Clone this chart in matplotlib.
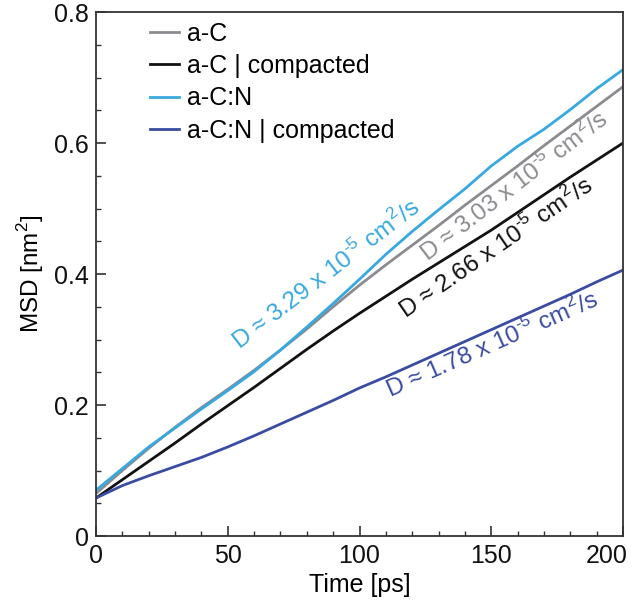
import matplotlib
matplotlib.use("Agg")
from matplotlib import pyplot as plt
from matplotlib.ticker import MultipleLocator
from matplotlib.transforms import ScaledTranslation

plt.rcParams['font.family'] = ['Liberation Sans', 'DejaVu Sans']

# MSD curves, every 10 ps
time = [0, 10, 20, 30, 40, 50, 60, 70, 80, 90, 100,
        110, 120, 130, 140, 150, 160, 170, 180, 190, 200]
msd_aC = [0.065, 0.100, 0.134, 0.166, 0.196, 0.224, 0.253, 0.284, 0.316, 0.350, 0.383,
          0.414, 0.444, 0.474, 0.505, 0.535, 0.565, 0.596, 0.626, 0.656, 0.686]
msd_aC_comp = [0.058, 0.086, 0.114, 0.142, 0.171, 0.199, 0.227, 0.256, 0.285, 0.313, 0.340,
               0.366, 0.392, 0.417, 0.442, 0.467, 0.494, 0.521, 0.548, 0.574, 0.600]
msd_aCN = [0.070, 0.103, 0.136, 0.165, 0.194, 0.222, 0.251, 0.284, 0.319, 0.355, 0.392,
           0.430, 0.465, 0.498, 0.530, 0.565, 0.595, 0.621, 0.651, 0.683, 0.712]
msd_aCN_comp = [0.058, 0.077, 0.092, 0.106, 0.120, 0.136, 0.153, 0.171, 0.189, 0.207, 0.226,
                0.243, 0.261, 0.279, 0.297, 0.315, 0.333, 0.351, 0.369, 0.388, 0.406]

labels = ['a-C', 'a-C | compacted', 'a-C:N', 'a-C:N | compacted']
colors = ['#8b8b90', '#121212', '#37a8e0', '#3a4ca2']
d_values = ['3.03', '2.66', '3.29', '1.78']
# plain hyphen in the exponent, as in the original
d_text = [r'D ≈ %s x 10$^{\mathregular{‐5}}$ cm$^{\mathregular{2}}$/s' % v for v in d_values]

fig = plt.figure(figsize=(6.33, 6.08), dpi=100)
ax = fig.add_axes([0.1517, 0.1184, 0.8325, 0.8618])

series = [msd_aC, msd_aC_comp, msd_aCN, msd_aCN_comp]
for s, lab, c in zip(series, labels, colors):
    ax.plot(time, s, color=c, lw=2.0, label=lab)

# annotations along the lines (x, y, angle), baseline at the D
ann = [(125.8, 0.418, 37.5), (117.5, 0.331, 34.5), (54.5, 0.284, 37.5), (111.8, 0.211, 23.8)]
for (x, y, r), t, c in zip(ann, d_text, colors):
    ax.text(x, y, t, color=c, fontsize=17.5, rotation=r, rotation_mode='anchor',
            ha='left', va='baseline')

ax.set_xlim(0, 200)
ax.set_ylim(0, 0.8)
ax.set_xticks([0, 50, 100, 150, 200])
ax.xaxis.set_minor_locator(MultipleLocator(10))
ax.set_yticks([0, 0.2, 0.4, 0.6, 0.8])
ax.set_yticklabels(['0', '0.2', '0.4', '0.6', '0.8'])
ax.yaxis.set_minor_locator(MultipleLocator(0.05))
ax.tick_params(which='both', direction='in', labelsize=18, colors='#333333',
               labelcolor='#111111')
ax.tick_params(which='major', length=7, width=1.2)
ax.tick_params(axis='y', which='major', pad=5)
ax.tick_params(axis='x', which='major', pad=6)
ax.tick_params(which='minor', length=3.5, width=1.0)
for sp in ax.spines.values():
    sp.set_color('#333333')
    sp.set_linewidth(1.3)

ax.set_xlabel('Time [ps]', fontsize=18, labelpad=3)
ax.set_ylabel(r'MSD [nm$^{\mathregular{2}}$]', fontsize=17.5, labelpad=6)

# last x label sits left of its tick so it stays inside the picture
last = ax.get_xticklabels()[-1]
last.set_horizontalalignment('right')
last.set_transform(last.get_transform() + ScaledTranslation(0.05, 0, fig.dpi_scale_trans))

ax.legend(loc='upper left', bbox_to_anchor=(0.078, 1.005), frameon=False,
          fontsize=18, handlelength=1.16, handletextpad=0.32, labelspacing=0.33,
          borderpad=0)

fig.savefig('out.png', dpi=100)
